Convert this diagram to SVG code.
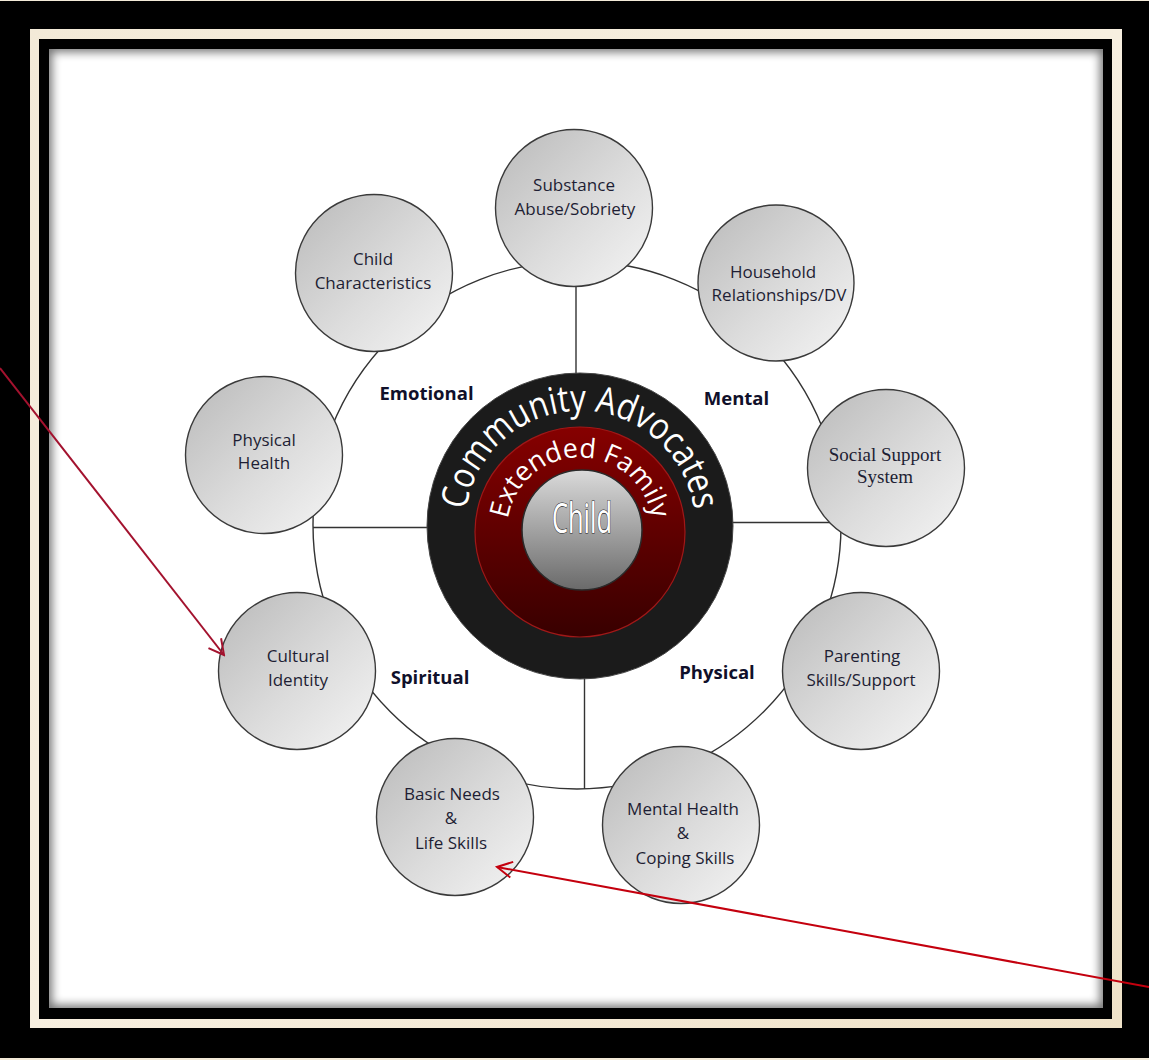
<svg xmlns="http://www.w3.org/2000/svg" xmlns:xlink="http://www.w3.org/1999/xlink" width="1149" height="1060" viewBox="0 0 1149 1060">
<defs>
<style>
.node circle{fill:url(#nodeGrad);stroke:#3a3a3a;stroke-width:1.4}
.nt{font-family:"Open Sans","Liberation Sans",sans-serif;font-size:17px;fill:#1e1e34;text-anchor:middle}
.nts{font-family:"Liberation Serif",serif;font-size:19px;fill:#1e1e34;text-anchor:middle}
.lbl{font-family:"Open Sans","Liberation Sans",sans-serif;font-size:18.5px;font-weight:bold;fill:#10102a;text-anchor:middle}
.conn{fill:none;stroke:#333;stroke-width:1.4}
</style>
<linearGradient id="nodeGrad" x1="0" y1="0" x2="1" y2="1">
<stop offset="0" stop-color="#b9b9b9"/>
<stop offset="0.55" stop-color="#dcdcdc"/>
<stop offset="1" stop-color="#f5f5f5"/>
</linearGradient>
<linearGradient id="redGrad" x1="0" y1="0" x2="0" y2="1">
<stop offset="0" stop-color="#860000"/>
<stop offset="1" stop-color="#380000"/>
</linearGradient>
<linearGradient id="childGrad" x1="0" y1="0" x2="0" y2="1">
<stop offset="0" stop-color="#dadada"/>
<stop offset="1" stop-color="#6a6a6a"/>
</linearGradient>
<linearGradient id="creamGrad" x1="0" y1="0" x2="1" y2="1">
<stop offset="0" stop-color="#f3ead8"/>
<stop offset="0.5" stop-color="#f7efe0"/>
<stop offset="1" stop-color="#efe2c8"/>
</linearGradient>
<filter id="blur5" x="-5%" y="-5%" width="110%" height="110%">
<feGaussianBlur stdDeviation="5"/>
</filter>
<clipPath id="panelClip"><rect x="49" y="49" width="1054" height="959"/></clipPath>
<marker id="arrA" viewBox="0 0 20 20" refX="18" refY="10" markerWidth="20" markerHeight="20" markerUnits="userSpaceOnUse" orient="auto">
<path d="M3,2 L18,10 L3,18" fill="none" stroke="#a3122e" stroke-width="2"/>
</marker>
<marker id="arrB" viewBox="0 0 20 20" refX="18" refY="10" markerWidth="20" markerHeight="20" markerUnits="userSpaceOnUse" orient="auto">
<path d="M3,2 L18,10 L3,18" fill="none" stroke="#c4000e" stroke-width="2"/>
</marker>
<path id="arcCA" d="M466.1,510 A115,115 0 0 1 693.9,510"/>
<path id="arcEF" d="M507.9,519 A73,73 0 0 1 652.1,519"/>
</defs>

<!-- frame -->
<g id="frame">
<rect x="0" y="0" width="1149" height="1060" fill="#f3ead8"/>
<rect x="0" y="1" width="1149" height="1057" fill="#000"/>
<rect x="30" y="29" width="1092" height="999" fill="url(#creamGrad)"/>
<rect x="39" y="39" width="1073" height="980" fill="#000"/>
<rect x="49" y="49" width="1054" height="959" fill="#fff"/>
<g clip-path="url(#panelClip)">
<rect x="46" y="46" width="1060" height="965" fill="none" stroke="#000" stroke-width="12" opacity="0.55" filter="url(#blur5)"/>
</g>
</g>

<!-- connectors -->
<g id="connectors">
<circle class="conn" cx="577" cy="525" r="264"/>
<line class="conn" x1="576" y1="285" x2="576" y2="374"/>
<line class="conn" x1="313" y1="527.5" x2="428" y2="527.5"/>
<line class="conn" x1="732" y1="522.5" x2="841" y2="522.5"/>
<line class="conn" x1="584.5" y1="678" x2="584.5" y2="789"/>
</g>

<!-- center -->
<g id="center">
<circle cx="580" cy="526" r="153" fill="#1b1b1b" stroke="#444" stroke-width="1"/>
<circle cx="580" cy="532" r="105" fill="url(#redGrad)" stroke="#a01818" stroke-width="1.2"/>
<circle cx="582" cy="530" r="60" fill="url(#childGrad)" stroke="#2a2a2a" stroke-width="1.5"/>
<text font-family="Open Sans, Liberation Sans, sans-serif" font-size="37" fill="#fff"><textPath xlink:href="#arcCA" href="#arcCA" textLength="329" lengthAdjust="spacingAndGlyphs">Community Advocates</textPath></text>
<text font-family="Open Sans, Liberation Sans, sans-serif" font-size="27" fill="#fff"><textPath xlink:href="#arcEF" href="#arcEF" textLength="206" lengthAdjust="spacingAndGlyphs">Extended Family</textPath></text>
<text x="582" y="533" font-family="Open Sans, Liberation Sans, sans-serif" font-size="42" fill="#ffffff" stroke="#1a1a1a" stroke-width="1.1" paint-order="stroke" text-anchor="middle" textLength="60" lengthAdjust="spacingAndGlyphs">Child</text>
</g>

<!-- nodes -->
<g id="node-substance" class="node">
<circle cx="574" cy="208" r="78.5"/>
<text class="nt" x="574" y="191">Substance</text>
<text class="nt" x="575" y="215">Abuse/Sobriety</text>
</g>
<g id="node-child-characteristics" class="node">
<circle cx="374" cy="273" r="78.5"/>
<text class="nt" x="373" y="265">Child</text>
<text class="nt" x="373" y="289">Characteristics</text>
</g>
<g id="node-household" class="node">
<circle cx="776" cy="283" r="78"/>
<text class="nt" x="773" y="278">Household</text>
<text class="nt" x="779" y="301">Relationships/DV</text>
</g>
<g id="node-social-support" class="node">
<circle cx="886" cy="468" r="78.5"/>
<text class="nts" x="885" y="461">Social Support</text>
<text class="nts" x="885" y="483">System</text>
</g>
<g id="node-physical-health" class="node">
<circle cx="264" cy="455" r="78.5"/>
<text class="nt" x="264" y="446">Physical</text>
<text class="nt" x="264" y="469">Health</text>
</g>
<g id="node-cultural-identity" class="node">
<circle cx="297" cy="671" r="78.5"/>
<text class="nt" x="298" y="662">Cultural</text>
<text class="nt" x="298" y="686">Identity</text>
</g>
<g id="node-basic-needs" class="node">
<circle cx="455" cy="817" r="78.5"/>
<text class="nt" x="452" y="800">Basic Needs</text>
<text class="nt" x="451" y="824">&amp;</text>
<text class="nt" x="451" y="849">Life Skills</text>
</g>
<g id="node-mental-health" class="node">
<circle cx="681" cy="825" r="78.5"/>
<text class="nt" x="683" y="815">Mental Health</text>
<text class="nt" x="683" y="839">&amp;</text>
<text class="nt" x="685" y="864">Coping Skills</text>
</g>
<g id="node-parenting" class="node">
<circle cx="861" cy="671" r="78.5"/>
<text class="nt" x="862" y="662">Parenting</text>
<text class="nt" x="861" y="686">Skills/Support</text>
</g>

<!-- quadrant labels -->
<g id="labels">
<text class="lbl" x="426.5" y="400">Emotional</text>
<text class="lbl" x="736.5" y="405">Mental</text>
<text class="lbl" x="430" y="684">Spiritual</text>
<text class="lbl" x="717" y="679">Physical</text>
</g>

<!-- pointer arrows -->
<g id="arrows">
<line x1="0" y1="368" x2="224" y2="655" stroke="#a3122e" stroke-width="2" marker-end="url(#arrA)"/>
<line x1="1149" y1="987" x2="497" y2="867" stroke="#c4000e" stroke-width="2" marker-end="url(#arrB)"/>
</g>
</svg>
